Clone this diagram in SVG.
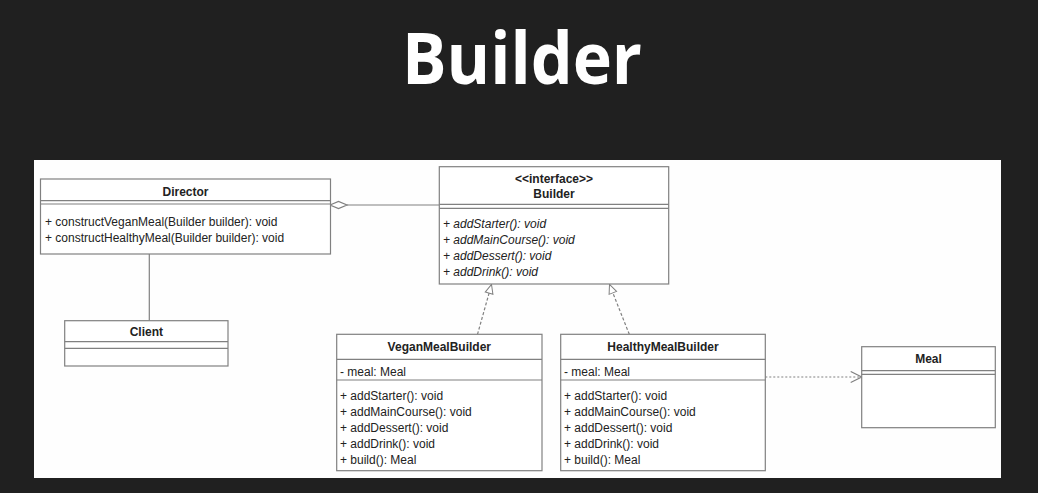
<svg xmlns="http://www.w3.org/2000/svg" width="1038" height="493" viewBox="0 0 1038 493">
<style>
.box{fill:#fff;stroke:#808080;stroke-width:1.2}
.sep{stroke:#808080;stroke-width:1.2}
.t{font-family:"Liberation Sans",Arial,sans-serif;font-size:12px;fill:#222}
.b{font-weight:bold;text-anchor:middle}
.i{font-style:italic}
.con{fill:none;stroke:#808080;stroke-width:1.2}
</style>
<defs>
<marker id="tri" markerWidth="12" markerHeight="12" refX="10" refY="5" orient="auto" markerUnits="userSpaceOnUse" viewBox="0 0 12 12">
<path d="M1,1 L10,5 L1,9 Z" fill="#fff" stroke="#808080" stroke-width="1"/>
</marker>
<marker id="open" markerWidth="14" markerHeight="14" refX="12" refY="6" orient="auto" markerUnits="userSpaceOnUse" viewBox="0 0 14 14">
<path d="M1,0.5 L12,6 L1,11.5" fill="none" stroke="#808080" stroke-width="1.2"/>
</marker>
</defs>
<rect x="0" y="0" width="1038" height="493" fill="#202020"/>
<text x="522" y="84" text-anchor="middle" font-family="'Open Sans','Noto Sans',sans-serif" font-weight="bold" font-size="72" fill="#fff" textLength="240" lengthAdjust="spacingAndGlyphs">Builder</text>
<rect x="34" y="160" width="967" height="318" fill="#fefefe"/>

<g id="connectors">
<line class="con" x1="149.3" y1="254" x2="149.3" y2="320.7"/>
<line class="con" x1="347" y1="205" x2="439.3" y2="205"/>
<path d="M330,205 L338.5,201.5 L347,205 L338.5,208.5 Z" fill="#fff" stroke="#808080" stroke-width="1.2"/>
<line class="con" x1="477.5" y1="334.3" x2="491.5" y2="284.5" stroke-dasharray="3,2" marker-end="url(#tri)"/>
<line class="con" x1="629.3" y1="334.3" x2="609.5" y2="284.5" stroke-dasharray="3,2" marker-end="url(#tri)"/>
<line class="con" x1="765.3" y1="377" x2="861.7" y2="377" stroke-dasharray="2,2" marker-end="url(#open)"/>
</g>

<g id="director">
<rect class="box" x="40.5" y="179" width="290" height="75"/>
<line class="sep" x1="40.5" y1="200.7" x2="330.5" y2="200.7"/>
<line class="sep" x1="40.5" y1="204" x2="330.5" y2="204"/>
<text class="t b" x="185.5" y="195.5">Director</text>
<text class="t" x="45" y="225.5">+ constructVeganMeal(Builder builder): void</text>
<text class="t" x="45" y="241.5">+ constructHealthyMeal(Builder builder): void</text>
</g>

<g id="client">
<rect class="box" x="64.7" y="320.7" width="163.3" height="45.3"/>
<line class="sep" x1="64.7" y1="341.7" x2="228" y2="341.7"/>
<line class="sep" x1="64.7" y1="348.3" x2="228" y2="348.3"/>
<text class="t b" x="146.3" y="336">Client</text>
</g>

<g id="builder">
<rect class="box" x="439.3" y="166.7" width="229.4" height="117.3"/>
<line class="sep" x1="439.3" y1="204.3" x2="668.7" y2="204.3"/>
<line class="sep" x1="439.3" y1="208.3" x2="668.7" y2="208.3"/>
<text class="t b" x="554" y="182.5">&lt;&lt;interface&gt;&gt;</text>
<text class="t b" x="554" y="197.5">Builder</text>
<text class="t i" x="443" y="227.5">+ addStarter(): void</text>
<text class="t i" x="443" y="243.5">+ addMainCourse(): void</text>
<text class="t i" x="443" y="259.5">+ addDessert(): void</text>
<text class="t i" x="443" y="275.5">+ addDrink(): void</text>
</g>

<g id="veganmealbuilder">
<rect class="box" x="336.7" y="334.3" width="205.3" height="136.4"/>
<line class="sep" x1="336.7" y1="359.3" x2="542" y2="359.3"/>
<line class="sep" x1="336.7" y1="380" x2="542" y2="380"/>
<text class="t b" x="439.3" y="350.5">VeganMealBuilder</text>
<text class="t" x="340" y="375.5">- meal: Meal</text>
<text class="t" x="340" y="399.5">+ addStarter(): void</text>
<text class="t" x="340" y="415.5">+ addMainCourse(): void</text>
<text class="t" x="340" y="431.5">+ addDessert(): void</text>
<text class="t" x="340" y="447.5">+ addDrink(): void</text>
<text class="t" x="340" y="463.5">+ build(): Meal</text>
</g>

<g id="healthymealbuilder">
<rect class="box" x="560.7" y="334.3" width="204.6" height="136.4"/>
<line class="sep" x1="560.7" y1="359.3" x2="765.3" y2="359.3"/>
<line class="sep" x1="560.7" y1="380" x2="765.3" y2="380"/>
<text class="t b" x="663" y="350.5">HealthyMealBuilder</text>
<text class="t" x="564" y="375.5">- meal: Meal</text>
<text class="t" x="564" y="399.5">+ addStarter(): void</text>
<text class="t" x="564" y="415.5">+ addMainCourse(): void</text>
<text class="t" x="564" y="431.5">+ addDessert(): void</text>
<text class="t" x="564" y="447.5">+ addDrink(): void</text>
<text class="t" x="564" y="463.5">+ build(): Meal</text>
</g>

<g id="meal">
<rect class="box" x="861.7" y="346.7" width="133.6" height="81"/>
<line class="sep" x1="861.7" y1="370.7" x2="995.3" y2="370.7"/>
<line class="sep" x1="861.7" y1="374.3" x2="995.3" y2="374.3"/>
<text class="t b" x="928.5" y="362.5">Meal</text>
</g>
</svg>
